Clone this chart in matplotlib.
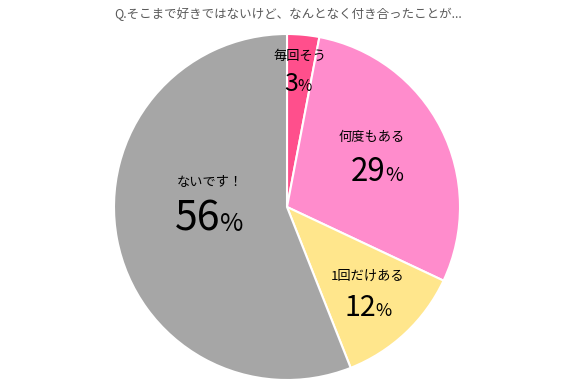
import matplotlib
matplotlib.use("Agg")
import matplotlib.pyplot as plt
from matplotlib.offsetbox import TextArea, HPacker, AnnotationBbox

plt.rcParams['font.family'] = ['Noto Sans CJK JP', 'DejaVu Sans']

title = "Q.そこまで好きではないけど、なんとなく付き合ったことが..."
labels = ["毎回そう", "何度もある", "1回だけある", "ないです！"]
values = [3, 29, 12, 56]
colors = ["#FF4F8C", "#FF8CCC", "#FFE68C", "#A6A6A6"]

# label positions (pixel coords of reference), size of number text
label_pos = [(300, 56), (372, 137), (368, 276), (210, 182)]
num_pos = [(298, 84), (377, 172), (368, 308), (209, 219)]
num_sizes = [18, 22.5, 20.5, 29.5]

W, H = 578, 389
fig = plt.figure(figsize=(W / 100, H / 100), dpi=100)
ax = fig.add_axes([0, 0, 1, 1])

cx, cy, r = 287, H - 207, 173
ax.pie(values, colors=colors, startangle=90, counterclock=False,
       center=(cx, cy), radius=r,
       wedgeprops=dict(edgecolor="white", linewidth=1.5))
ax.set_xlim(0, W)
ax.set_ylim(0, H)
ax.set_aspect('auto')
ax.axis('off')

ax.text(288, H - 14, title, ha='center', va='center', fontsize=9, color='#595959')

for lab, val, lp, npos, ns in zip(labels, values, label_pos, num_pos, num_sizes):
    ax.text(lp[0], H - lp[1], lab, ha='center', va='center', fontsize=9.5, color='black')
    t1 = TextArea(str(val), textprops=dict(fontsize=ns, color='black'))
    t2 = TextArea("%", textprops=dict(fontsize=ns * 0.62, color='black'))
    box = HPacker(children=[t1, t2], align='baseline', pad=0, sep=0)
    ab = AnnotationBbox(box, (npos[0], H - npos[1]), frameon=False, box_alignment=(0.5, 0.5))
    ax.add_artist(ab)

fig.savefig("out.png", dpi=100)
